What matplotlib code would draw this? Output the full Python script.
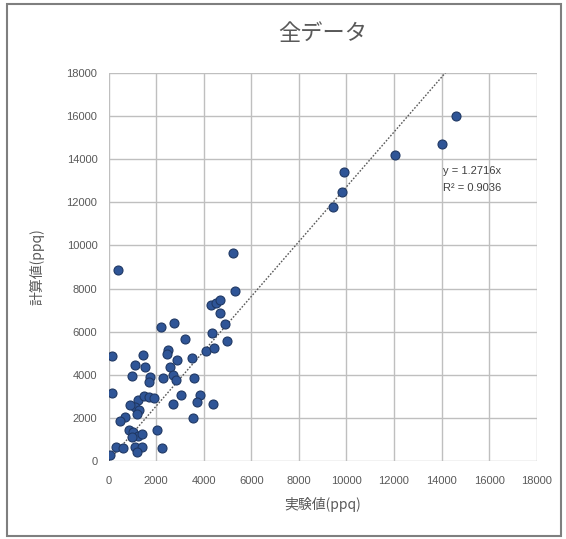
import numpy as np
import matplotlib.pyplot as plt
from matplotlib.patches import Rectangle

plt.rcParams['font.family'] = ['Noto Sans CJK JP', 'DejaVu Sans']

# 実験値 / 計算値 (ppq)
jikken = [14600, 14000, 12050, 9900, 9800, 9450, 400, 5250, 5300,
          4300, 4500, 4700, 4700, 4900, 2750, 2200,
          4350, 5000, 3200, 4100, 4450, 2500, 2450, 150, 1450, 2900, 3500,
          1100, 1550, 2600, 1000, 1750, 1700, 2300, 2700, 2850, 3600,
          150, 1250, 1500, 1700, 1900, 3050, 3850, 3700, 2700, 4400,
          1100, 1300, 900, 1200, 3550, 700, 500, 850,
          1050, 1250, 1400, 1000, 2050, 300, 600, 1100, 1400, 1200, 2250, 50]
keisan = [16000, 14700, 14200, 13400, 12500, 11800, 8850, 9650, 7900,
          7250, 7350, 7450, 6850, 6350, 6400, 6200,
          5950, 5550, 5650, 5100, 5250, 5150, 4950, 4850, 4900, 4700, 4800,
          4450, 4350, 4350, 3950, 3900, 3650, 3850, 4000, 3750, 3850,
          3150, 2850, 3000, 2950, 2900, 3050, 3050, 2750, 2650, 2650,
          2500, 2350, 2600, 2200, 2000, 2050, 1850, 1450,
          1350, 1150, 1250, 1100, 1450, 650, 600, 650, 650, 400, 600, 300]

slope = 1.2716
r2 = 0.9036

fig = plt.figure(figsize=(5.66, 5.39), dpi=100)
ax = fig.add_axes([0.1917, 0.1447, 0.7565, 0.7199])

ax.scatter(jikken, keisan, s=42, color='#2F5597', edgecolors='#1F3864',
           linewidths=0.8, zorder=3)

# 近似直線 (原点を通る)
xs = np.array([0, max(jikken)])
ax.plot(xs, slope * xs, linestyle=(0, (1.2, 1.2)), color='#595959',
        linewidth=1.0, zorder=2)
ax.text(14050, 13700, f'y = {slope}x\nR² = {r2}', fontsize=8,
        color='#404040', family=['Liberation Sans', 'DejaVu Sans'],
        va='top', ha='left', linespacing=1.9, zorder=4)

ax.set_xlim(0, 18000)
ax.set_ylim(0, 18000)
ticks = np.arange(0, 18001, 2000)
ax.set_xticks(ticks)
ax.set_yticks(ticks)
ax.grid(True, color='#bfbfbf', linewidth=1.0, zorder=0)
ax.set_axisbelow(True)
for s in ax.spines.values():
    s.set_visible(False)
ax.tick_params(length=0, labelsize=8, labelcolor='#595959')
ax.tick_params(axis='x', pad=11)
ax.tick_params(axis='y', pad=8)
for lab in ax.get_xticklabels() + ax.get_yticklabels():
    lab.set_family(['Liberation Sans', 'DejaVu Sans'])

ax.set_title('全データ', fontsize=16, color='#595959', pad=24)
ax.set_xlabel('実験値(ppq)', fontsize=10, color='#595959', labelpad=8)
ax.set_ylabel('計算値(ppq)', fontsize=10, color='#595959', labelpad=16)

# 外枠
fig.add_artist(Rectangle((7 / 566, 3 / 539), 554 / 566, 532 / 539,
                         transform=fig.transFigure, fill=False,
                         edgecolor='#7f7f7f', linewidth=1.5))

fig.savefig('out.png', dpi=100)
